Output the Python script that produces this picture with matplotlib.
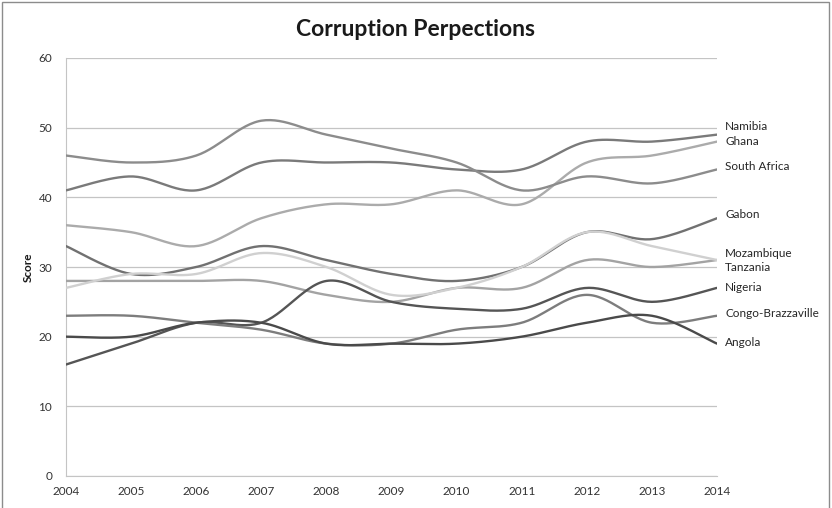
import numpy as np
import matplotlib
matplotlib.use("Agg")
import matplotlib.pyplot as plt
from matplotlib.patches import Rectangle

years = [2004, 2005, 2006, 2007, 2008, 2009, 2010, 2011, 2012, 2013, 2014]
countries = ["Namibia", "Ghana", "South Africa", "Gabon", "Mozambique",
             "Tanzania", "Nigeria", "Congo-Brazzaville", "Angola"]
namibia = [41, 43, 41, 45, 45, 45, 44, 44, 48, 48, 49]
ghana = [36, 35, 33, 37, 39, 39, 41, 39, 45, 46, 48]
south_africa = [46, 45, 46, 51, 49, 47, 45, 41, 43, 42, 44]
gabon = [33, 29, 30, 33, 31, 29, 28, 30, 35, 34, 37]
mozambique = [28, 28, 28, 28, 26, 25, 27, 27, 31, 30, 31]
tanzania = [27, 29, 29, 32, 30, 26, 27, 30, 35, 33, 31]
nigeria = [16, 19, 22, 22, 28, 25, 24, 24, 27, 25, 27]
congo = [23, 23, 22, 21, 19, 19, 21, 22, 26, 22, 23]
angola = [20, 20, 22, 22, 19, 19, 19, 20, 22, 23, 19]
series = [namibia, ghana, south_africa, gabon, mozambique, tanzania, nigeria, congo, angola]

colors = ["#7a7a7a", "#ababab", "#8c8c8c", "#717171", "#a3a3a3",
          "#d0d0d0", "#555555", "#7d7d7d", "#4a4a4a"]
label_nudge = [1.2, 0, 0.4, 0.5, 1.0, -1.1, 0.1, 0.3, 0.2]


def smooth(x, y, n=30):
    x = np.asarray(x, float)
    y = np.asarray(y, float)
    P = np.column_stack([x, y])
    P = np.vstack([P[0], P, P[-1]])
    out = []
    t = np.linspace(0, 1, n)[:, None]
    for i in range(1, len(P) - 2):
        p0, p1, p2, p3 = P[i - 1], P[i], P[i + 1], P[i + 2]
        c1 = p1 + (p2 - p0) / 6.0
        c2 = p2 - (p3 - p1) / 6.0
        seg = ((1 - t) ** 3) * p1 + 3 * ((1 - t) ** 2) * t * c1 + 3 * (1 - t) * t ** 2 * c2 + t ** 3 * p2
        out.append(seg if i == 1 else seg[1:])
    out = np.vstack(out)
    return out[:, 0], out[:, 1]


plt.rcParams['font.family'] = ['Lato', 'DejaVu Sans']
fig = plt.figure(figsize=(8.32, 5.08), dpi=100)
ax = fig.add_axes([66 / 832, 1 - 476 / 508, (717 - 66) / 832, (476 - 58) / 508])

for vals, name, col, nud in zip(series, countries, colors, label_nudge):
    xs, ys = smooth(years, vals)
    ax.plot(xs, ys, color=col, lw=1.7, solid_capstyle='round', zorder=3)
    ax.annotate(name, xy=(years[-1], vals[-1]), xytext=(6, nud * 418 / 60 * 0.72),
                textcoords='offset points', va='center', ha='left', fontsize=8.5,
                color='#262626', annotation_clip=False)

ax.set_xlim(2004, 2014)
ax.set_ylim(0, 60)
ax.set_xticks(years)
ax.set_yticks(range(0, 61, 10))
ax.grid(axis='y', color='#c4c4c4', lw=0.9, zorder=0)
for s in ['top', 'right']:
    ax.spines[s].set_visible(False)
ax.spines['left'].set_color('#c4c4c4')
ax.spines['bottom'].set_color('#c4c4c4')
ax.tick_params(length=0, labelsize=8.5, colors='#333333', pad=7)
ax.tick_params(axis='y', pad=10)
ax.set_ylabel('Score', fontsize=8.5, fontweight='bold', color='#1a1a1a', labelpad=3)
fig.text(416 / 832, 1 - 30 / 508, 'Corruption Perpections', ha='center', va='center',
         fontsize=16.5, fontweight='bold', color='#1a1a1a')
fig.patches.append(Rectangle((2 / 832, -0.01), 827 / 832, 1 - 2 / 508 + 0.01,
                             transform=fig.transFigure, fill=False, ec='#8c8c8c', lw=1))
fig.savefig('out.png', dpi=100)
